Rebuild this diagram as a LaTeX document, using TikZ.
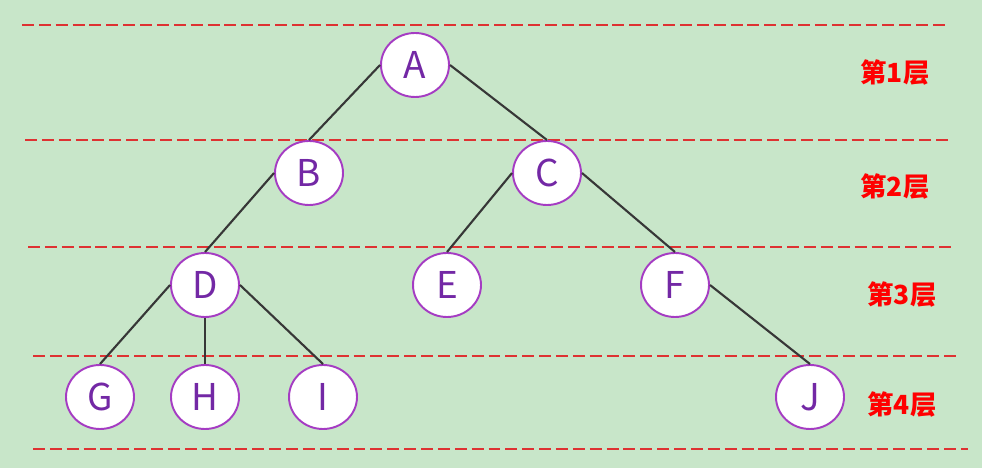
\documentclass[tikz,border=0pt]{standalone}
\usepackage{fontspec}
\setmainfont{Noto Sans CJK SC}
\usepackage{tikz}
\usetikzlibrary{shapes.geometric}

\definecolor{bggreen}{RGB}{200,230,201}
\definecolor{ringpurple}{RGB}{165,60,195}
\definecolor{letterpurple}{RGB}{115,40,165}
\definecolor{dashred}{RGB}{222,50,50}
\definecolor{edgegray}{RGB}{55,55,55}

\tikzset{
	treenode/.style={ellipse, draw=ringpurple, line width=1.1pt, fill=white,
		minimum width=1.36cm, minimum height=1.28cm, inner sep=0pt,
		text=letterpurple, font=\fontsize{21}{24}\selectfont},
	levelline/.style={dashred, line width=1.6pt, dash pattern=on 6.8pt off 2.8pt},
	levellabel/.style={text=red, font=\bfseries\fontsize{15}{18}\selectfont},
	treeedge/.style={edgegray, line width=1.2pt}
}

\begin{document}
\begin{tikzpicture}
		\fill[bggreen] (0,0) rectangle (19.64,9.36);
		\useasboundingbox (0,0) rectangle (19.64,9.36);
		% level separators
		\draw[levelline] (0.44,8.86) -- (18.90,8.86);
		\draw[levelline] (0.50,6.56) -- (19.00,6.56);
		\draw[levelline] (0.56,4.42) -- (19.04,4.42);
		\draw[levelline] (0.66,2.24) -- (19.14,2.24);
		\draw[levelline] (0.66,0.38) -- (19.36,0.38);
		% level labels
		\node[levellabel] (L1) at (17.90,7.90) {第1层};
		\node[levellabel] (L2) at (17.90,5.62) {第2层};
		\node[levellabel] (L3) at (18.04,3.46) {第3层};
		\node[levellabel] (L4) at (18.04,1.26) {第4层};
		% tree nodes
		\node[treenode] (A) at (8.30,8.06) {A};
		\node[treenode] (B) at (6.18,5.90) {B};
		\node[treenode] (C) at (10.94,5.90) {C};
		\node[treenode] (D) at (4.10,3.66) {D};
		\node[treenode] (E) at (8.94,3.66) {E};
		\node[treenode] (F) at (13.50,3.66) {F};
		\node[treenode] (G) at (2.00,1.42) {G};
		\node[treenode] (H) at (4.10,1.42) {H};
		\node[treenode] (I) at (6.46,1.42) {I};
		\node[treenode] (J) at (16.20,1.42) {J};
		% edges
		\draw[treeedge] (A.west) -- (B.north);
		\draw[treeedge] (A.east) -- (C.north);
		\draw[treeedge] (B.west) -- (D.north);
		\draw[treeedge] (C.west) -- (E.north);
		\draw[treeedge] (C.east) -- (F.north);
		\draw[treeedge] (D.west) -- (G.north);
		\draw[treeedge] (D.south) -- (H.north);
		\draw[treeedge] (D.east) -- (I.north);
		\draw[treeedge] (F.east) -- (J.north);
	\end{tikzpicture}
\end{document}
